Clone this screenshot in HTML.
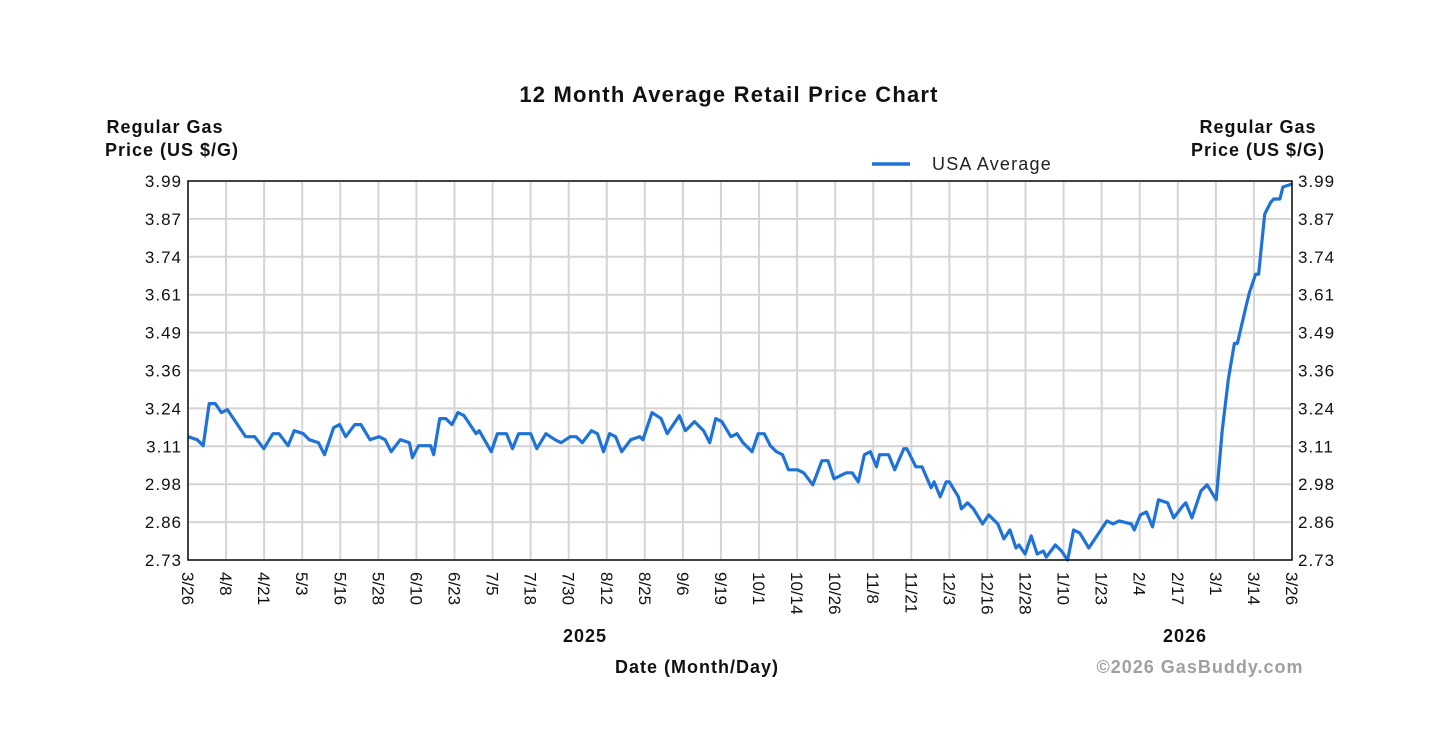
<!DOCTYPE html>
<html><head><meta charset="utf-8"><style>
body{margin:0;background:#fff;}
svg{display:block;font-family:"Liberation Sans",Arial,sans-serif;}
</style></head><body>
<svg id="chart" width="1456" height="729">
<text x="729" y="102" text-anchor="middle" font-size="22" font-weight="bold" letter-spacing="1.2" fill="#111">12 Month Average Retail Price Chart</text>
<text x="165" y="133" text-anchor="middle" font-size="18" font-weight="bold" letter-spacing="1" fill="#111"><tspan x="165">Regular Gas</tspan><tspan x="172" dy="23">Price (US $/G)</tspan></text>
<text x="1258" y="133" text-anchor="middle" font-size="18" font-weight="bold" letter-spacing="1" fill="#111"><tspan x="1258">Regular Gas</tspan><tspan x="1258" dy="23">Price (US $/G)</tspan></text>
<g>
<line x1="872" y1="164" x2="910" y2="164" stroke="#1f73d8" stroke-width="3.5"/>
<text x="932" y="170" font-size="18" letter-spacing="1.2" fill="#222">USA Average</text>
</g>
<g id="grid"></g>
<g id="yl"></g>
<g id="xl"></g>
<text x="585" y="642" text-anchor="middle" font-size="18" font-weight="bold" letter-spacing="1" fill="#111">2025</text>
<text x="1185" y="642" text-anchor="middle" font-size="18" font-weight="bold" letter-spacing="1" fill="#111">2026</text>
<text x="697" y="673" text-anchor="middle" font-size="18" font-weight="bold" letter-spacing="1" fill="#111">Date (Month/Day)</text>
<text x="1200" y="673" text-anchor="middle" font-size="18" font-weight="bold" letter-spacing="1" fill="#a0a0a0">©2026 GasBuddy.com</text>
<path id="line" fill="none" stroke="#1f73d8" stroke-width="3.2" stroke-linejoin="round"/>
<rect x="188" y="181" width="1104" height="379" fill="none" stroke="#111" stroke-width="1.5"/>
</svg>
<script>
const xTickLabels=["3/26","4/8","4/21","5/3","5/16","5/28","6/10","6/23","7/5","7/18","7/30","8/12","8/25","9/6","9/19","10/1","10/14","10/26","11/8","11/21","12/3","12/16","12/28","1/10","1/23","2/4","2/17","3/1","3/14","3/26"];
const yTickLabels=["2.73","2.86","2.98","3.11","3.24","3.36","3.49","3.61","3.74","3.87","3.99"];
const days=[0,3,5,7,9,11,13,15,19,22,25,28,30,33,35,38,40,43,45,48,50,52,55,57,60,63,65,67,70,73,74,76,80,81,83,85,87,89,91,95,96,100,102,105,107,109,113,115,118,121,123,126,128,130,133,135,137,139,141,143,146,149,150,153,156,158,162,164,167,170,172,174,176,179,181,183,186,188,190,192,194,196,198,201,203,206,209,211,213,217,219,221,223,225,227,228,231,233,236,237,240,242,245,246,248,250,251,254,255,257,259,262,264,267,269,271,273,274,276,278,280,282,283,286,288,290,292,294,297,301,303,305,307,311,312,314,316,318,320,323,325,328,329,331,334,336,339,341,343,345,346,349,350,352,353,355,357,358,360,361,364];
const prices=[3.14,3.13,3.11,3.25,3.25,3.22,3.23,3.20,3.14,3.14,3.10,3.15,3.15,3.11,3.16,3.15,3.13,3.12,3.08,3.17,3.18,3.14,3.18,3.18,3.13,3.14,3.13,3.09,3.13,3.12,3.07,3.11,3.11,3.08,3.20,3.20,3.18,3.22,3.21,3.15,3.16,3.09,3.15,3.15,3.10,3.15,3.15,3.10,3.15,3.13,3.12,3.14,3.14,3.12,3.16,3.15,3.09,3.15,3.14,3.09,3.13,3.14,3.13,3.22,3.20,3.15,3.21,3.16,3.19,3.16,3.12,3.20,3.19,3.14,3.15,3.12,3.09,3.15,3.15,3.11,3.09,3.08,3.03,3.03,3.02,2.98,3.06,3.06,3.00,3.02,3.02,2.99,3.08,3.09,3.04,3.08,3.08,3.03,3.10,3.10,3.04,3.04,2.97,2.99,2.94,2.99,2.99,2.94,2.90,2.92,2.90,2.85,2.88,2.85,2.80,2.83,2.77,2.78,2.75,2.81,2.75,2.76,2.74,2.78,2.76,2.73,2.83,2.82,2.77,2.83,2.86,2.85,2.86,2.85,2.83,2.88,2.89,2.84,2.93,2.92,2.87,2.91,2.92,2.87,2.96,2.98,2.93,3.16,3.33,3.45,3.45,3.58,3.62,3.68,3.68,3.88,3.92,3.93,3.93,3.97,3.98];
const L=188,R=1292,T=181,B=560,yMin=2.73,yMax=3.99,dMax=364;
const xs=d=>L+(d/dMax)*(R-L);
const ys=v=>B-(v-yMin)/(yMax-yMin)*(B-T);
const NS="http://www.w3.org/2000/svg";
const grid=document.getElementById('grid'),yl=document.getElementById('yl'),xl=document.getElementById('xl');
const n=xTickLabels.length;
xTickLabels.forEach((lab,i)=>{
  const x=L+i*(R-L)/(n-1);
  const g=document.createElementNS(NS,'line');
  g.setAttribute('x1',x);g.setAttribute('x2',x);g.setAttribute('y1',T);g.setAttribute('y2',B);
  g.setAttribute('stroke','#d4d4d4');g.setAttribute('stroke-width','2');
  
  
  grid.appendChild(g);
  const t=document.createElementNS(NS,'text');
  t.setAttribute('transform','translate('+(x-6)+',572) rotate(90)');
  t.setAttribute('font-size','17');t.setAttribute('fill','#111');
  t.textContent=lab;
  
  
  xl.appendChild(t);
});
const m=yTickLabels.length;
yTickLabels.forEach((lab,i)=>{
  const y=ys(yMin+i*(yMax-yMin)/(m-1));
  const g=document.createElementNS(NS,'line');
  g.setAttribute('x1',L);g.setAttribute('x2',R);g.setAttribute('y1',y);g.setAttribute('y2',y);
  g.setAttribute('stroke','#d4d4d4');g.setAttribute('stroke-width','2');
  
  
  grid.appendChild(g);
  [[L-6,'end'],[R+6,'start']].forEach(([x,a])=>{
    const t=document.createElementNS(NS,'text');
    t.setAttribute('x',x);t.setAttribute('y',y+6);t.setAttribute('text-anchor',a);
    t.setAttribute('font-size','17');t.setAttribute('letter-spacing','1');t.setAttribute('fill','#111');
    t.textContent=lab;
    
    
    yl.appendChild(t);
  });
});
document.getElementById('line').setAttribute('d',days.map((d,i)=>(i?'L':'M')+xs(d).toFixed(1)+','+ys(prices[i]).toFixed(1)).join(''));
</script>
</body></html>
